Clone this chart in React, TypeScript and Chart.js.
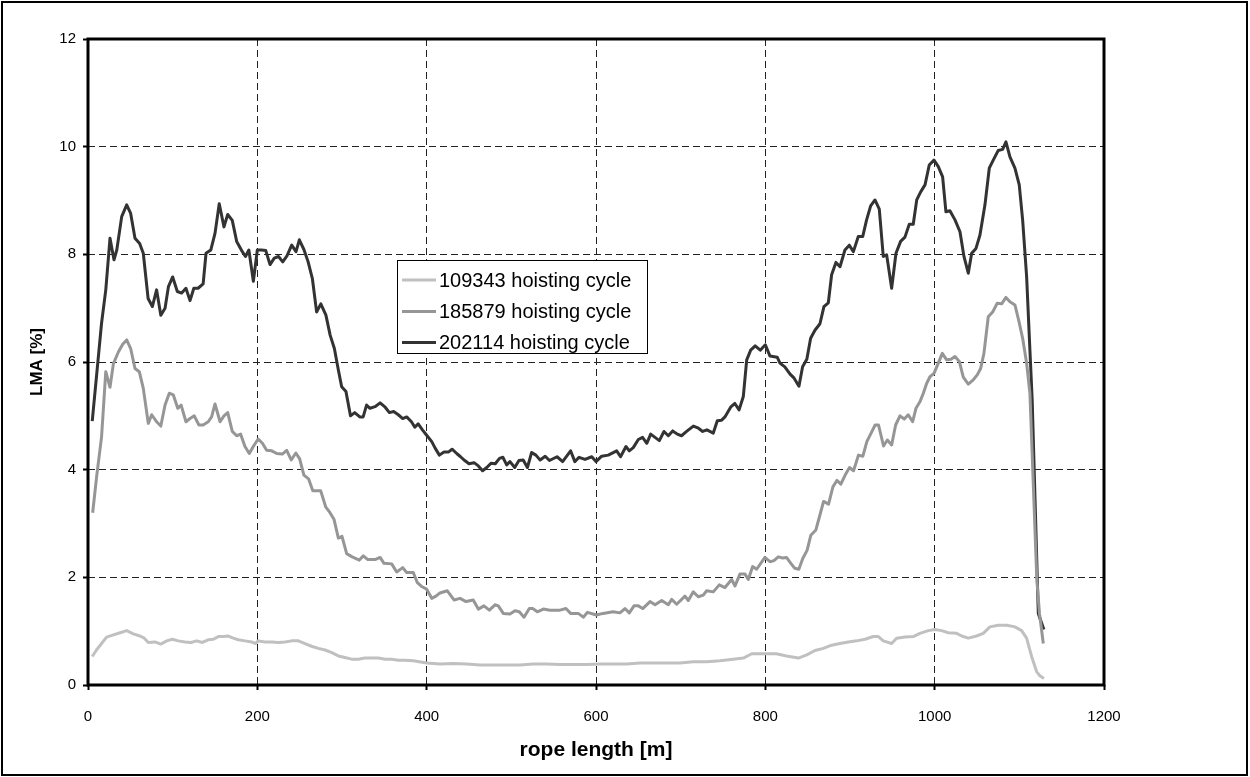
import React, { useEffect, useRef } from "react";
import { Chart, registerables } from "chart.js";

Chart.register(...registerables);

const FONT = "'Liberation Sans', Arial, Helvetica, sans-serif";

const xTicks = [0, 200, 400, 600, 800, 1000, 1200];
const yTicks = [0, 2, 4, 6, 8, 10, 12];
const xTitle = "rope length [m]";
const yTitle = "LMA [%]";
const seriesLabels = ["109343 hoisting cycle", "185879 hoisting cycle", "202114 hoisting cycle"];
const seriesColors = ["#c0c0c0", "#969696", "#333333"];

// [rope length m, LMA %]
const cycle109343: [number, number][] = [
  [5, 0.53], [10, 0.65], [16, 0.77], [22, 0.89], [30, 0.93], [38, 0.97], [45.7, 1.01], [53.5, 0.95],
  [61.4, 0.91], [66.5, 0.87], [71.2, 0.79], [79, 0.8], [86, 0.76], [93, 0.82], [99.6, 0.85], [106.6, 0.82],
  [114.6, 0.8], [121.6, 0.79], [128.4, 0.82], [135, 0.79], [142, 0.84], [148, 0.85], [154, 0.9], [160, 0.9],
  [165.7, 0.91], [171.6, 0.87], [177.5, 0.84], [185.4, 0.82], [193.3, 0.8], [198, 0.77], [201, 0.82], [209, 0.8],
  [217, 0.8], [224.8, 0.79], [232.7, 0.8], [240.6, 0.82], [248.4, 0.82], [256.3, 0.77], [264, 0.72], [272, 0.68],
  [280, 0.65], [288, 0.6], [295.7, 0.54], [303.5, 0.51], [311.4, 0.48], [319.3, 0.48], [327, 0.5], [335, 0.5],
  [343, 0.5], [351, 0.48], [358.7, 0.48], [366.5, 0.46], [374.4, 0.46], [384.2, 0.45], [400, 0.41], [415.7, 0.39],
  [431.4, 0.4], [447.3, 0.39], [463, 0.37], [478.7, 0.37], [494.5, 0.37], [510, 0.37], [526, 0.39], [541.7, 0.39],
  [557.5, 0.38], [573, 0.38], [589, 0.38], [604.7, 0.39], [620.5, 0.39], [636, 0.39], [652, 0.41], [667.7, 0.41],
  [683.5, 0.41], [699, 0.41], [715, 0.43], [730.7, 0.43], [746.5, 0.45], [762, 0.48], [774, 0.5], [784, 0.58],
  [794, 0.58], [802, 0.58], [813, 0.58], [825, 0.54], [839, 0.5], [849, 0.56], [858.6, 0.64], [868.4, 0.68],
  [878.3, 0.74], [888, 0.77], [898, 0.8], [907.8, 0.82], [917.7, 0.85], [927.5, 0.9], [933.5, 0.9], [939.3, 0.82],
  [949.2, 0.77], [955, 0.87], [965, 0.89], [974.7, 0.9], [982.6, 0.96], [992.5, 1.01], [1000.4, 1.03], [1008.3, 1.01],
  [1016, 0.97], [1026, 0.96], [1032, 0.91], [1039.7, 0.87], [1049.5, 0.91], [1057.4, 0.96], [1065.3, 1.08], [1075, 1.11],
  [1085, 1.11], [1094.8, 1.08], [1102.7, 1.01], [1108.6, 0.87], [1114.5, 0.53], [1120.4, 0.25], [1124.3, 0.17], [1129, 0.12],
];

const cycle185879: [number, number][] = [
  [5.5, 3.2], [10.2, 3.87], [16, 4.61], [21, 5.82], [26, 5.53], [30, 5.97], [36, 6.19], [41, 6.33],
  [45.7, 6.41], [50.4, 6.25], [55.5, 5.88], [60.6, 5.82], [65.3, 5.51], [71.2, 4.86], [75.2, 5.02], [81, 4.89],
  [86, 4.81], [91, 5.2], [96, 5.42], [100.7, 5.39], [106, 5.14], [110, 5.2], [115.7, 4.89], [120.5, 4.95],
  [125.5, 5.0], [131, 4.83], [136, 4.83], [142, 4.89], [146, 4.98], [150, 5.22], [156, 4.89], [160.6, 5.0],
  [165, 5.06], [170.4, 4.71], [175.6, 4.63], [180.3, 4.66], [185.4, 4.43], [190.5, 4.3], [195.2, 4.43], [201, 4.57],
  [206, 4.49], [211, 4.36], [217, 4.35], [223, 4.3], [229.5, 4.29], [234.7, 4.36], [240, 4.18], [245.5, 4.31],
  [250, 4.2], [255, 3.9], [260.5, 3.83], [265.5, 3.61], [270, 3.61], [274.8, 3.61], [280.7, 3.31], [285.8, 3.2],
  [290.5, 3.08], [295.7, 2.73], [300, 2.76], [305.5, 2.44], [312, 2.38], [320.5, 2.32], [325.2, 2.4], [330.5, 2.33],
  [339, 2.33], [345, 2.37], [349.6, 2.26], [358.7, 2.25], [364.6, 2.1], [371.7, 2.18], [376.4, 2.09], [384.2, 2.09],
  [389, 1.9], [394, 1.83], [400, 1.78], [406, 1.61], [411, 1.65], [415.7, 1.71], [424.4, 1.75], [432.3, 1.58],
  [439.4, 1.61], [446.5, 1.55], [455, 1.58], [461, 1.41], [467.7, 1.47], [474, 1.39], [480.7, 1.49], [484.6, 1.47],
  [490.5, 1.33], [498.4, 1.32], [504.3, 1.38], [509.4, 1.36], [515, 1.26], [521.2, 1.42], [525.2, 1.42], [530.7, 1.36],
  [537.8, 1.41], [545.6, 1.39], [557.5, 1.39], [564.5, 1.42], [570, 1.33], [579, 1.33], [585, 1.26], [590, 1.35],
  [600.4, 1.3], [608.3, 1.33], [620.2, 1.36], [628.3, 1.34], [634.2, 1.42], [639.3, 1.34], [644.9, 1.47], [650, 1.47],
  [655.2, 1.42], [663.8, 1.55], [669.7, 1.49], [677.6, 1.57], [685.4, 1.49], [689.4, 1.59], [695.3, 1.5], [705.1, 1.65],
  [709, 1.57], [714.9, 1.73], [720.8, 1.64], [726.7, 1.67], [730.7, 1.75], [738.5, 1.73], [745.6, 1.86], [752.3, 1.81],
  [760.2, 1.96], [764.2, 1.84], [770, 2.06], [776, 2.06], [779.9, 1.96], [785, 2.2], [789.7, 2.15], [799.5, 2.37],
  [805.5, 2.29], [810.2, 2.31], [815.3, 2.38], [820.4, 2.36], [825, 2.37], [829.7, 2.27], [834.6, 2.17], [839.6, 2.15],
  [844.2, 2.35], [849.3, 2.5], [853.7, 2.78], [859.7, 2.88], [864, 3.13], [868.8, 3.41], [874.7, 3.36], [879.8, 3.68],
  [884.5, 3.8], [889.2, 3.73], [894.3, 3.9], [899.4, 4.04], [904.2, 3.98], [910, 4.27], [915.2, 4.25], [919.9, 4.52],
  [924.6, 4.67], [929.7, 4.83], [933.7, 4.83], [939.6, 4.44], [944.1, 4.55], [949.2, 4.46], [953.9, 4.83], [959, 5.0],
  [964.1, 4.94], [968.8, 5.02], [974, 4.89], [977.9, 5.14], [982.6, 5.26], [986.6, 5.42], [990.5, 5.6], [994.6, 5.73],
  [999.2, 5.79], [1004.3, 5.98], [1009, 6.16], [1014.2, 6.04], [1019.3, 6.05], [1024, 6.1], [1029.1, 6.01], [1033.8, 5.72],
  [1039.7, 5.59], [1045.6, 5.67], [1050.3, 5.76], [1054.3, 5.88], [1058.2, 6.16], [1063.3, 6.84], [1068.5, 6.93], [1073.9, 7.09],
  [1079.1, 7.08], [1084.2, 7.2], [1088.9, 7.12], [1094.8, 7.06], [1099.9, 6.73], [1103.9, 6.44], [1108.6, 5.98], [1112.5, 5.42],
  [1120.7, 1.95], [1123.8, 1.33], [1128.3, 0.77],
];

const cycle202114: [number, number][] = [
  [5, 4.9], [16, 6.72], [21, 7.34], [26, 8.3], [30.7, 7.9], [34, 8.08], [39.8, 8.7], [45.7, 8.92],
  [50.4, 8.76], [55.5, 8.3], [61, 8.2], [65.3, 8.02], [71, 7.18], [76, 7.03], [81, 7.34], [86, 6.87],
  [91, 7.0], [95, 7.4], [100, 7.58], [105.5, 7.31], [110.6, 7.28], [115.7, 7.37], [120.5, 7.14], [125, 7.37],
  [130, 7.37], [136, 7.45], [139.4, 8.02], [145, 8.08], [150, 8.39], [155, 8.94], [160.6, 8.51], [165, 8.74],
  [170.4, 8.63], [175.6, 8.24], [181.5, 8.07], [186, 7.96], [190, 8.08], [195.3, 7.5], [200, 8.08], [205, 8.08],
  [210, 8.07], [215, 7.81], [220, 7.93], [225, 7.96], [230, 7.86], [235, 7.97], [240.6, 8.17], [245.7, 8.05],
  [249.6, 8.27], [255, 8.09], [260, 7.86], [265, 7.55], [270, 6.93], [275, 7.08], [281, 6.87], [286, 6.5],
  [291, 6.25], [295.7, 5.85], [299.6, 5.54], [304.7, 5.45], [310, 5.0], [315, 5.06], [321, 4.98], [325, 4.98],
  [329, 5.2], [333, 5.14], [339, 5.17], [345, 5.24], [351, 5.16], [356, 5.06], [361, 5.08], [366.5, 5.02],
  [371.7, 4.95], [376.4, 4.98], [382, 4.89], [386, 4.79], [390, 4.85], [395, 4.74], [400, 4.64], [406, 4.52],
  [410, 4.4], [415, 4.27], [420.5, 4.33], [426, 4.33], [430, 4.38], [435.5, 4.3], [440, 4.24], [445, 4.17],
  [450, 4.11], [456, 4.13], [461, 4.07], [466, 3.98], [471, 4.04], [476, 4.12], [481, 4.11], [486, 4.21],
  [490, 4.23], [494.5, 4.09], [498.4, 4.15], [504, 4.04], [509, 4.17], [514, 4.18], [519, 4.04], [524, 4.32],
  [529, 4.27], [534, 4.18], [540, 4.25], [545, 4.17], [554, 4.24], [560.6, 4.15], [570, 4.35], [575, 4.15],
  [580, 4.23], [587, 4.19], [595, 4.24], [600, 4.15], [606.7, 4.25], [614.5, 4.27], [624.4, 4.35], [629, 4.24],
  [635.4, 4.43], [639.3, 4.35], [644, 4.41], [650, 4.56], [655, 4.6], [660, 4.49], [664.6, 4.66], [669.7, 4.6],
  [674.8, 4.54], [680.3, 4.71], [685.4, 4.63], [690.6, 4.72], [696, 4.66], [701, 4.63], [707, 4.71], [715, 4.81],
  [721, 4.77], [726, 4.71], [731, 4.74], [738.5, 4.68], [743.3, 4.91], [748.4, 4.92], [752.3, 4.98], [759, 5.16],
  [764, 5.23], [769, 5.11], [774, 5.36], [778, 6.04], [782.7, 6.22], [788, 6.3], [794, 6.22], [800, 6.32],
  [805.5, 6.11], [814, 6.09], [817.3, 5.98], [823, 5.91], [829, 5.78], [834, 5.7], [839.7, 5.55], [844, 5.91],
  [849, 6.05], [853.5, 6.44], [858.6, 6.59], [864.5, 6.71], [869.2, 7.03], [874.4, 7.1], [878.3, 7.62], [883.4, 7.85],
  [888.2, 7.77], [894, 8.08], [899.2, 8.17], [904, 8.05], [909.8, 8.33], [915, 8.33], [919.6, 8.64], [924.4, 8.9],
  [929.5, 9.01], [934.6, 8.84], [939.3, 7.96], [943.3, 7.99], [949.2, 7.37], [954.3, 8.02], [959.8, 8.24], [964.9, 8.32],
  [970, 8.56], [974.7, 8.56], [978.8, 9.01], [983.5, 9.16], [988.6, 9.29], [993.6, 9.66], [999.2, 9.75], [1004.3, 9.63],
  [1009.4, 9.44], [1013.3, 8.79], [1018, 8.81], [1024, 8.64], [1029.9, 8.42], [1034.6, 7.96], [1039.7, 7.65], [1043.7, 8.02],
  [1048.8, 8.11], [1053.5, 8.36], [1059.4, 8.92], [1064.5, 9.6], [1069.2, 9.75], [1075.1, 9.93], [1080.3, 9.95], [1084.2, 10.09],
  [1088.9, 9.81], [1094.8, 9.6], [1099.9, 9.29], [1103.9, 8.64], [1108.6, 7.59], [1112.5, 6.22], [1115.2, 5.29], [1122.4, 1.33],
  [1129, 1.03],
];

const seriesData = [cycle109343, cycle185879, cycle202114];

const decorPlugin = {
  id: "decor",
  afterDatasetsDraw(chart: any) {
    const { ctx, chartArea } = chart;
    const { left, top, right, bottom } = chartArea;
    ctx.save();
    // plot frame
    ctx.strokeStyle = "#000";
    ctx.lineWidth = 3;
    ctx.strokeRect(left, top, right - left, bottom - top);

    // legend
    const lx = 397, ly = 260, lw = 250, lh = 93;
    ctx.fillStyle = "#fff";
    ctx.fillRect(lx, ly, lw, lh);
    ctx.lineWidth = 1;
    ctx.strokeStyle = "#000";
    ctx.strokeRect(lx + 0.5, ly + 0.5, lw, lh);
    const rows = [280, 311.5, 342.5];
    chart.data.datasets.forEach((ds: any, i: number) => {
      const y = rows[i];
      ctx.strokeStyle = ds.borderColor;
      ctx.lineWidth = 3;
      ctx.beginPath();
      ctx.moveTo(402, y);
      ctx.lineTo(436, y);
      ctx.stroke();
      ctx.fillStyle = "#000";
      ctx.font = `20px ${FONT}`;
      ctx.textAlign = "left";
      ctx.textBaseline = "middle";
      ctx.fillText(ds.label, 439, y + 1);
    });

    // axis titles
    ctx.fillStyle = "#000";
    ctx.font = `bold 21px ${FONT}`;
    ctx.textAlign = "center";
    ctx.textBaseline = "middle";
    ctx.fillText(xTitle, (left + right) / 2, 750);
    ctx.font = `bold 17px ${FONT}`;
    ctx.save();
    ctx.translate(37, (top + bottom) / 2);
    ctx.rotate(-Math.PI / 2);
    ctx.fillText(yTitle, 0, 0);
    ctx.restore();
    ctx.restore();
  },
  afterDraw(chart: any) {
    const { ctx, width, height } = chart;
    ctx.save();
    ctx.strokeStyle = "#000";
    ctx.lineWidth = 2;
    ctx.strokeRect(2, 2, width - 5, height - 4);
    ctx.restore();
  },
};

export default function App() {
  const ref = useRef<HTMLCanvasElement>(null);
  useEffect(() => {
    if (!ref.current) return;
    const chart = new Chart(ref.current, {
      type: "scatter",
      data: {
        datasets: seriesData.map((d, i) => ({
          label: seriesLabels[i],
          data: d.map(([x, y]) => ({ x, y })),
          showLine: true,
          borderColor: seriesColors[i],
          backgroundColor: seriesColors[i],
          borderWidth: 3,
          pointRadius: 0,
          pointHoverRadius: 0,
          tension: 0,
          fill: false,
          borderJoinStyle: "round",
        })),
      },
      options: {
        responsive: false,
        animation: false,
        devicePixelRatio: 1,
        layout: { padding: { left: 0, top: 39, right: 146, bottom: 0 } },
        plugins: { legend: { display: false }, tooltip: { enabled: false } },
        scales: {
          x: {
            type: "linear",
            min: 0,
            max: 1200,
            afterBuildTicks: (s: any) => {
              s.ticks = xTicks.map((v) => ({ value: v }));
            },
            afterFit: (s: any) => {
              s.height = 92;
            },
            ticks: {
              color: "#000",
              font: { family: FONT, size: 15 },
              padding: 18,
              maxRotation: 0,
              callback: (v: any) => String(v),
            },
            grid: { color: "#222", lineWidth: 1, drawTicks: true, tickLength: 5, tickColor: "#000", tickWidth: 2 },
            border: { display: false, dash: [7, 4] },
          },
          y: {
            type: "linear",
            min: 0,
            max: 12,
            afterBuildTicks: (s: any) => {
              s.ticks = yTicks.map((v) => ({ value: v }));
            },
            afterFit: (s: any) => {
              s.width = 88;
            },
            ticks: {
              color: "#000",
              font: { family: FONT, size: 15 },
              padding: 7,
              callback: (v: any) => String(v),
            },
            grid: { color: "#222", lineWidth: 1, drawTicks: true, tickLength: 5, tickColor: "#000", tickWidth: 2 },
            border: { display: false, dash: [7, 4] },
          },
        },
      },
      plugins: [decorPlugin],
    });
    return () => chart.destroy();
  }, []);
  return (
    <div style={{ position: "fixed", left: 0, top: 0, width: 1250, height: 777, background: "#fff" }}>
      <canvas ref={ref} width={1250} height={777} style={{ display: "block" }} />
    </div>
  );
}
